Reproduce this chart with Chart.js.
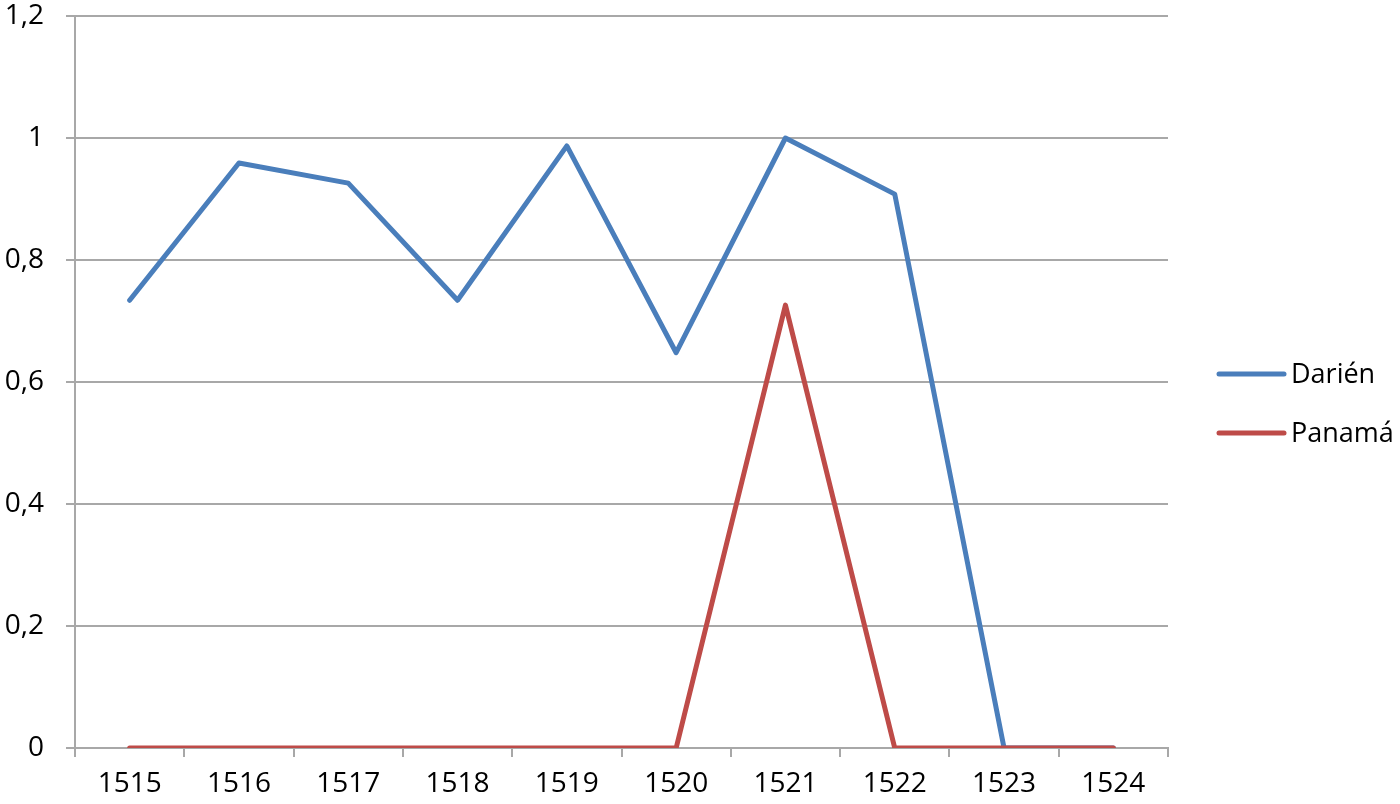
<!DOCTYPE html>
<html>
<head>
<meta charset="utf-8">
<script src="https://cdn.jsdelivr.net/npm/chart.js@4/dist/chart.umd.min.js"></script>
<style>
html,body{margin:0;padding:0;background:#fff;}
canvas{display:block;}
</style>
</head>
<body>
<canvas id="c" width="1400" height="804"></canvas>
<script>
const categories = ['1515','1516','1517','1518','1519','1520','1521','1522','1523','1524'];
const darien = [0.734, 0.959, 0.926, 0.734, 0.987, 0.648, 1.0, 0.908, 0, 0];
const panama = [0, 0, 0, 0, 0, 0, 0.726, 0, 0, 0];
const seriesNames = ['Darién', 'Panamá'];
const seriesColors = ['#4a7ebb', '#be4b48'];
const yTicks = [0, 0.2, 0.4, 0.6, 0.8, 1, 1.2];

const FONT = "'Open Sans', 'Liberation Sans', sans-serif";
const GRID = '#a8a8a8';

const legendPlugin = {
  id: 'customLegend',
  afterDraw(chart) {
    const ctx = chart.ctx;
    ctx.save();
    chart.data.datasets.forEach((ds, i) => {
      const y = 374 + i * 59;
      ctx.strokeStyle = ds.borderColor;
      ctx.lineWidth = 5;
      ctx.lineCap = 'round';
      ctx.beginPath();
      ctx.moveTo(1219, y);
      ctx.lineTo(1284, y);
      ctx.stroke();
      ctx.fillStyle = '#000';
      ctx.font = '27px ' + FONT;
      ctx.textBaseline = 'middle';
      ctx.textAlign = 'left';
      ctx.fillText(ds.label, 1291, y + 1);
    });
    ctx.restore();
  }
};

new Chart(document.getElementById('c'), {
  type: 'line',
  data: {
    labels: categories,
    datasets: [
      { label: seriesNames[0], data: darien, order: 2, borderColor: seriesColors[0], backgroundColor: seriesColors[0], borderWidth: 5, pointRadius: 0, tension: 0, borderJoinStyle: 'round', borderCapStyle: 'round' },
      { label: seriesNames[1], data: panama, order: 1, borderColor: seriesColors[1], backgroundColor: seriesColors[1], borderWidth: 5, pointRadius: 0, tension: 0, borderJoinStyle: 'round', borderCapStyle: 'round' }
    ]
  },
  options: {
    responsive: false,
    animation: false,
    devicePixelRatio: 1,
    layout: { padding: { top: 16, right: 232, left: 0, bottom: 0 } },
    plugins: { legend: { display: false }, tooltip: { enabled: false } },
    scales: {
      x: {
        offset: true,
        grid: { offset: true, drawOnChartArea: false, drawTicks: true, tickLength: 9, color: GRID, lineWidth: 2 },
        border: { color: GRID, width: 2 },
        ticks: { color: '#000', font: { family: FONT, size: 28 }, padding: 10, maxRotation: 0, autoSkip: false },
        afterFit(s) { s.height = 56; s.paddingLeft = 0; s.paddingRight = 0; }
      },
      y: {
        min: 0, max: 1.2,
        afterBuildTicks(s) { s.ticks = yTicks.map(v => ({ value: v })); },
        grid: { color: GRID, lineWidth: 2, drawTicks: true, tickLength: 9 },
        border: { color: GRID, width: 2 },
        ticks: {
          color: '#000', font: { family: FONT, size: 28 }, padding: 22,
          callback: v => String(Math.round(v * 10) / 10).replace('.', ',')
        },
        afterFit(s) { s.width = 75; s.paddingTop = 0; s.paddingBottom = 0; }
      }
    }
  },
  plugins: [legendPlugin]
});
</script>
</body>
</html>
